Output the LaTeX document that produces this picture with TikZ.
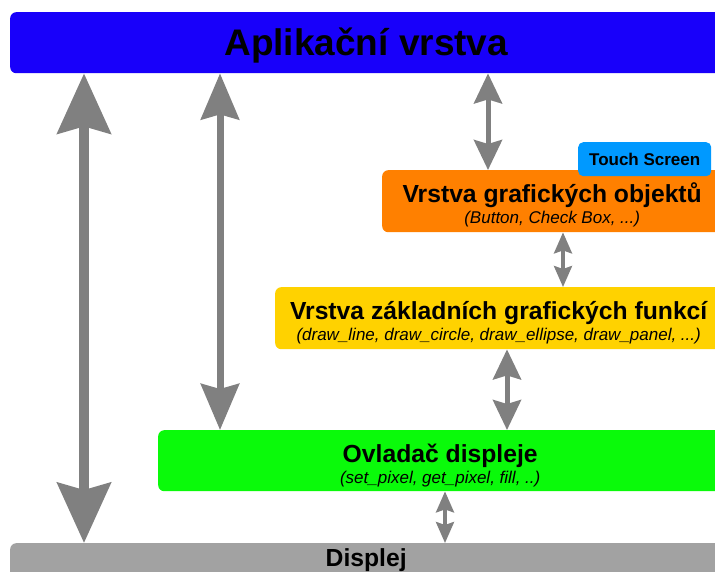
\documentclass[tikz,border=0pt]{standalone}
\usepackage{fontspec}
\setmainfont{Liberation Sans}
\usetikzlibrary{arrows.meta}

\definecolor{aplblue}{RGB}{24,0,250}
\definecolor{objorange}{RGB}{255,128,0}
\definecolor{zakyellow}{RGB}{255,210,0}
\definecolor{ovlgreen}{RGB}{10,250,10}
\definecolor{dispgray}{RGB}{162,162,162}
\definecolor{touchblue}{RGB}{0,153,255}
\definecolor{arrgray}{RGB}{128,128,128}

\tikzset{
    vrstva/.style={rectangle, rounded corners=6pt, inner sep=0pt, anchor=north west},
    titul/.style={anchor=base, inner sep=0pt, font=\fontsize{24.7}{26}\selectfont\bfseries},
    popis/.style={anchor=base, inner sep=0pt, font=\fontsize{17}{19}\selectfont\itshape},
    touchbox/.style={rectangle, rounded corners=5pt, inner sep=0pt, anchor=north west,
        fill=touchblue, font=\fontsize{17}{19}\selectfont\bfseries},
    bigarr/.style={draw=arrgray, line width=10pt, >={Stealth[length=60pt,width=53pt,inset=7pt]}, <->},
    midarr/.style={draw=arrgray, line width=7pt, >={Stealth[length=46pt,width=38pt,inset=5pt]}, <->},
    smallarr/.style={draw=arrgray, line width=5pt, >={Stealth[length=30pt,width=28pt,inset=4pt]}, <->},
    tinyarr/.style={draw=arrgray, line width=3.5pt, >={Stealth[length=21pt,width=18pt,inset=3pt]}, <->}
}

\begin{document}
\begin{tikzpicture}[x=1pt,y=-1pt]
    \useasboundingbox (0,0) rectangle (715,571);
    \clip (0,0) rectangle (715,571);

    \node[vrstva, fill=aplblue, minimum width=712pt, minimum height=61pt] (apl) at (10,12) {};
    \node[titul, font=\fontsize{37}{40}\selectfont\bfseries] (aplt) at ([yshift=-43pt]apl.north) {Aplikační vrstva};

    \node[vrstva, fill=objorange, minimum width=340pt, minimum height=62pt] (obj) at (382,170) {};
    \node[titul] (objt) at ([yshift=-32pt]obj.north) {Vrstva grafických objektů};
    \node[popis] (objp) at ([yshift=-53pt]obj.north) {(Button, Check Box, ...)};
    \node[touchbox, minimum width=133pt, minimum height=34pt] (touch) at (578,142) {Touch Screen};

    \node[vrstva, fill=zakyellow, minimum width=447pt, minimum height=62pt] (zakl) at (275,287) {};
    \node[titul] (zaklt) at ([yshift=-32pt]zakl.north) {Vrstva základních grafických funkcí};
    \node[popis] (zaklp) at ([yshift=-53pt]zakl.north) {(draw\_line, draw\_circle, draw\_ellipse, draw\_panel, ...)};

    \node[vrstva, fill=ovlgreen, minimum width=564pt, minimum height=61pt] (ovl) at (158,430) {};
    \node[titul] (ovlt) at ([yshift=-32pt]ovl.north) {Ovladač displeje};
    \node[popis] (ovlp) at ([yshift=-53pt]ovl.north) {(set\_pixel, get\_pixel, fill, ..)};

    \node[vrstva, fill=dispgray, minimum width=712pt, minimum height=40pt] (disp) at (10,543) {};
    \node[titul] (dispt) at ([yshift=-23pt]disp.north) {Displej};

    \coordinate (c1) at (84,0);
    \coordinate (c2) at (220,0);
    \coordinate (c3) at (488,0);
    \coordinate (c4) at (563,0);
    \coordinate (c5) at (507,0);
    \coordinate (c6) at (445,0);

    \draw[bigarr] (apl.south -| c1) -- (disp.north -| c1);
    \draw[midarr] (apl.south -| c2) -- (ovl.north -| c2);
    \draw[smallarr] (apl.south -| c3) -- (obj.north -| c3);
    \draw[tinyarr] (obj.south -| c4) -- (zakl.north -| c4);
    \draw[smallarr] (zakl.south -| c5) -- (ovl.north -| c5);
    \draw[tinyarr] (ovl.south -| c6) -- (disp.north -| c6);
\end{tikzpicture}
\end{document}
